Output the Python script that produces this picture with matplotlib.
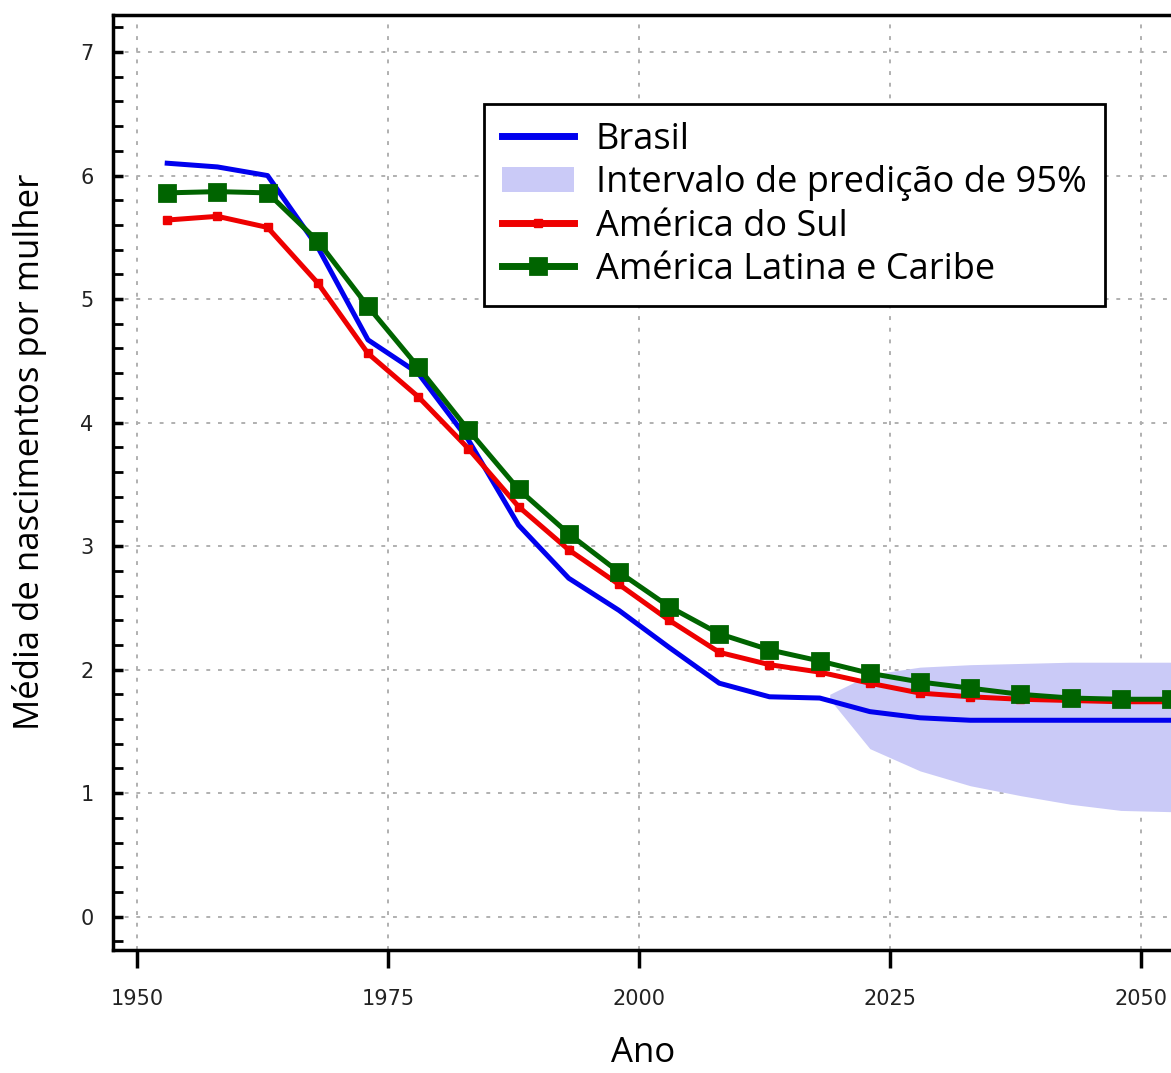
import matplotlib
matplotlib.use("Agg")
import matplotlib.pyplot as plt
from matplotlib.patches import Patch
from matplotlib.ticker import MultipleLocator

# ---- data ----
years = [1953, 1958, 1963, 1968, 1973, 1978, 1983, 1988, 1993, 1998, 2003,
         2008, 2013, 2018, 2023, 2028, 2033, 2038, 2043, 2048, 2053]
brasil = [6.10, 6.07, 6.00, 5.42, 4.67, 4.40, 3.86, 3.17, 2.74, 2.48, 2.18,
          1.89, 1.78, 1.77, 1.66, 1.61, 1.59, 1.59, 1.59, 1.59, 1.59]
america_sul = [5.64, 5.67, 5.58, 5.13, 4.56, 4.21, 3.79, 3.32, 2.97, 2.69, 2.40,
               2.14, 2.04, 1.98, 1.89, 1.81, 1.78, 1.76, 1.75, 1.74, 1.74]
america_latina = [5.86, 5.87, 5.86, 5.47, 4.94, 4.45, 3.94, 3.46, 3.10, 2.79, 2.51,
                  2.29, 2.16, 2.07, 1.97, 1.90, 1.85, 1.80, 1.77, 1.76, 1.76]
pi_years = [2019, 2023, 2028, 2033, 2038, 2043, 2048, 2053]
pi_lower = [1.76, 1.36, 1.18, 1.06, 0.98, 0.91, 0.86, 0.85]
pi_upper = [1.80, 1.96, 2.02, 2.04, 2.05, 2.06, 2.06, 2.06]
xticks = [1950, 1975, 2000, 2025, 2050]
yticks = [0, 1, 2, 3, 4, 5, 6, 7]

labels = ["Brasil", "Intervalo de predição de 95%", "América do Sul",
          "América Latina e Caribe"]

W, H = 1171, 1073
fig = plt.figure(figsize=(W / 100, H / 100), dpi=100)
ax = fig.add_axes([113 / W, 1 - 950 / H, (W - 113) / W, 935 / H])

band_color = "#cacaf7"
ax.fill_between(pi_years, pi_lower, pi_upper, color=band_color,
                linewidth=0, zorder=1)
l_br, = ax.plot(years, brasil, color="#0000ee", lw=3.6, zorder=3)
l_sul, = ax.plot(years, america_sul, color="#ee0000", lw=3.6, marker="s",
                 markersize=6, zorder=4)
l_lat, = ax.plot(years, america_latina, color="#006400", lw=3.6, marker="s",
                 markersize=11, markeredgewidth=2, zorder=5)

ax.set_xlim(1947.6, 2053.0)
ax.set_ylim(-0.27, 7.30)
ax.set_xticks(xticks)
ax.set_yticks(yticks)
ax.yaxis.set_minor_locator(MultipleLocator(0.2))
ax.grid(True, which="major", color="#b0b0b0", linestyle=(0, (2, 4)), lw=1.4)
ax.set_axisbelow(True)

for s in ["left", "bottom", "top"]:
    ax.spines[s].set_linewidth(2.5)
ax.spines["right"].set_visible(False)

ax.tick_params(axis="x", direction="out", length=13, width=2.5, pad=15,
               labelsize=15, labelcolor="#222222")
ax.tick_params(axis="y", which="major", direction="in", length=7, width=2.5,
               pad=14, labelsize=15, labelcolor="#222222")
ax.tick_params(axis="y", which="minor", direction="in", length=7, width=2)

lab_font = dict(family="Open Sans", fontsize=25)
ax.set_xlabel("Ano", **lab_font)
ax.set_ylabel("Média de nascimentos por mulher", **lab_font)
ax.xaxis.set_label_coords((643 - 113) / (W - 113), (950 - 1036) / 935)
ax.yaxis.set_label_coords((47 - 113) / (W - 113), (950 - 452) / 935)

band_handle = Patch(facecolor=band_color, edgecolor="none")
leg = ax.legend([l_br, band_handle, l_sul, l_lat], labels,
                loc="upper left",
                bbox_to_anchor=((484 - 113) / (W - 113), 1 - (104 - 15) / 935),
                prop={"family": "Open Sans", "size": 26},
                frameon=True, fancybox=False, framealpha=1,
                edgecolor="black", handlelength=2.0, handletextpad=0.6,
                labelspacing=0.2, borderpad=0.5, borderaxespad=0)
leg.get_frame().set_linewidth(2)
for h in leg.legend_handles:
    if not isinstance(h, Patch):
        h.set_linewidth(5)

fig.savefig("out.png", dpi=100)
